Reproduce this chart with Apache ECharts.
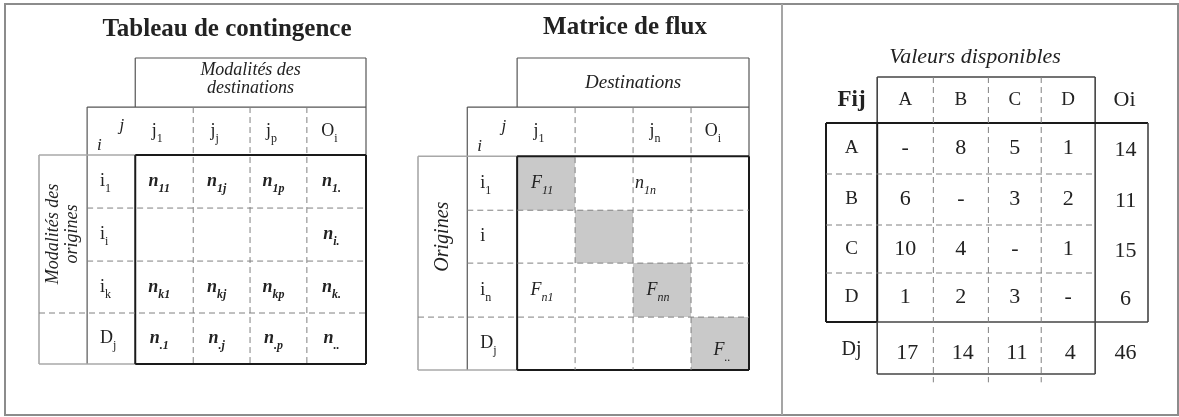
<!DOCTYPE html>
<html><head><meta charset="utf-8">
<script src="https://cdn.jsdelivr.net/npm/echarts@6/dist/echarts.min.js"></script>
<style>html,body{margin:0;padding:0;background:#fff}#c{width:1179px;height:417px}</style>
</head><body><div id="c"></div>
<script>
// ================= DATA =================
const titles = ['Tableau de contingence', 'Matrice de flux', 'Valeurs disponibles'];
// Table 1 : Tableau de contingence
const t1DestLabel = 'Modalités des\ndestinations';
const t1OrigLabel = 'Modalités des\norigines';
const t1Corner = ['i', 'j'];
const t1ColHeads = [['j','1'], ['j','j'], ['j','p'], ['O','i']];
const t1RowHeads = [['i','1'], ['i','i'], ['i','k'], ['D','j']];
const t1Cells = [
  [['n','11'], ['n','1j'], ['n','1p'], ['n','1.']],
  [null, null, null, ['n','i.']],
  [['n','k1'], ['n','kj'], ['n','kp'], ['n','k.']],
  [['n','.1'], ['n','.j'], ['n','.p'], ['n','..']]
];
// Table 2 : Matrice de flux
const t2DestLabel = 'Destinations';
const t2OrigLabel = 'Origines';
const t2Corner = ['i', 'j'];
const t2ColHeads = [['j','1'], null, ['j','n'], ['O','i']];
const t2RowHeads = [['i','1'], ['i',''], ['i','n'], ['D','j']];
const t2Cells = [
  [['F','11'], null, ['n','1n'], null],
  [null, null, null, null],
  [['F','n1'], null, ['F','nn'], null],
  [null, null, null, ['F','..']]
];
const t2Shaded = [[1,0,0,0],[0,1,0,0],[0,0,1,0],[0,0,0,1]];
// Table 3 : Valeurs disponibles
const t3Corner = 'Fij';
const t3Places = ['A', 'B', 'C', 'D'];
const t3Flows = [
  [null, 8, 5, 1],
  [6, null, 3, 2],
  [10, 4, null, 1],
  [1, 2, 3, null]
];
const t3OiLabel = 'Oi';
const t3DjLabel = 'Dj';
const t3Oi = [14, 11, 15, 6];
const t3Dj = [17, 14, 11, 4];
const t3Total = 46;

// ================= LAYOUT / STYLE =================
const SERIF = '"Liberation Serif","DejaVu Serif",serif';
const INK = '#222';
const GREY_CELL = '#c9c9c9';
function cum(a){const e=[0];a.forEach(v=>e.push(e[e.length-1]+v));return e;}
const tables = [
  {grid:{left:39, top:58, width:327, height:306}, colW:[0.83,0.83,1,0.98,0.98,1.02], rowH:[0.925,0.906,1,1,0.98,0.962]},
  {grid:{left:418, top:58, width:331, height:312}, colW:[0.85,0.86,1,1,1,1], rowH:[0.91,0.91,1,0.98,1,0.98]},
  {grid:{left:826, top:77, width:322, height:297}, colW:[0.93,1.02,1,0.96,0.98,0.96], rowH:[0.92,1.02,1.02,0.96,0.98,1.04]}
];
tables.forEach(t=>{t.ce=cum(t.colW); t.re=cum(t.rowH);});
function edgeAt(e,k){
  const n=e.length-1;
  if(k>=n) return e[n]+(k-n)*(e[n]-e[n-1]);
  const i=Math.floor(k), f=k-i; return e[i]+f*(e[i+1]-e[i]);
}
function richFor(size, italic, bold){
  const fs = italic?'italic':'normal', fw = bold?'bold':'normal';
  const ss = Math.round(size*0.66);
  return {
    b:{fontFamily:SERIF,fontSize:size,fontStyle:fs,fontWeight:fw,fill:INK,lineHeight:size+9,verticalAlign:'middle'},
    s:{fontFamily:SERIF,fontSize:ss,fontStyle:fs,fontWeight:fw,fill:INK,lineHeight:ss,verticalAlign:'bottom'}
  };
}
function subText(p){ return p ? '{b|'+p[0]+'}' + (p[1] ? '{s|'+p[1]+'}' : '') : ''; }

// ---------- items builders ----------
function buildT1T2(corner, destLabel, origLabel, colHeads, rowHeads, cells, shaded, opt){
  const items = [];
  items.push({c0:2,c1:5,r0:0,r1:0, text:destLabel, size:opt.destSize, italic:true, lineHeight:opt.destSize, dy:opt.destDy});
  items.push({c0:0,c1:0,r0:2,r1:4, text:origLabel, size:opt.origSize, italic:true, lineHeight:opt.origSize+1, rotate:true, dx:opt.origDx||0});
  items.push({c0:1,c1:1,r0:1,r1:1, text:corner[0], size:17, italic:true, ax:0, ay:1, dx:10, dy:-10, align:'left'});
  items.push({c0:1,c1:1,r0:1,r1:1, text:corner[1], size:17, italic:true, ax:1, ay:0, dx:-11, dy:19, align:'right'});
  colHeads.forEach((h,k)=>{ if(h) items.push({c0:2+k,c1:2+k,r0:1,r1:1, rich:subText(h), size:18, dx:opt.headDx}); });
  rowHeads.forEach((h,k)=>{ if(h) items.push({c0:1,c1:1,r0:2+k,r1:2+k, rich:subText(h), size:18, ax:0, dx:13, align:'left'}); });
  cells.forEach((row,m)=>row.forEach((v,k)=>{
    const it = {c0:2+k,c1:2+k,r0:2+m,r1:2+m, size:18, italic:true, bold:opt.bold, dx:opt.cellDx};
    if (shaded && shaded[m][k]) it.fill = GREY_CELL;
    if (v) it.rich = subText(v);
    const ov = opt.over && opt.over[m+','+k]; if (ov) Object.assign(it, ov);
    if (v || it.fill) items.push(it);
  }));
  return items;
}
const t1Items = buildT1T2(t1Corner, t1DestLabel, t1OrigLabel, t1ColHeads, t1RowHeads, t1Cells, null,
  {destSize:18, destDy:-3, origSize:18, headDx:-7, cellDx:-5, bold:true});
const t2Items = buildT1T2(t2Corner, t2DestLabel, t2OrigLabel, t2ColHeads, t2RowHeads, t2Cells, t2Shaded,
  {destSize:19, destDy:0, origSize:20, headDx:-7, cellDx:-4, bold:false,
   over:{'0,2':{ax:0, dx:2, align:'left'}, '3,3':{dx:2, dy:7}}});

const t3Items = [];
t3Items.push({c0:0,c1:0,r0:0,r1:0, text:t3Corner, size:23, bold:true});
t3Places.forEach((p,k)=>t3Items.push({c0:1+k,c1:1+k,r0:0,r1:0, text:p, size:19}));
t3Items.push({c0:5,c1:5,r0:0,r1:0, text:t3OiLabel, size:22, dx:3});
t3Places.forEach((p,k)=>t3Items.push({c0:0,c1:0,r0:1+k,r1:1+k, text:p, size:19}));
t3Flows.forEach((row,m)=>row.forEach((v,k)=>t3Items.push({c0:1+k,c1:1+k,r0:1+m,r1:1+m, text: v==null?'-':String(v), size:22})));
t3Oi.forEach((v,m)=>t3Items.push({c0:5,c1:5,r0:1+m,r1:1+m, text:String(v), size:22, dx:4, dy:2}));
t3Items.push({c0:0,c1:0,r0:5,r1:5, text:t3DjLabel, size:20, dy:2});
t3Dj.forEach((v,k)=>t3Items.push({c0:1+k,c1:1+k,r0:5,r1:5, text:String(v), size:22, dx:2, dy:5}));
t3Items.push({c0:5,c1:5,r0:5,r1:5, text:String(t3Total), size:22, dx:4, dy:5});

// ---------- lines (in cell-edge index space) ----------
const LS = {
  thin:{stroke:'#555', lineWidth:1.2},
  mid:{stroke:'#444', lineWidth:1.6},
  thick:{stroke:'#1a1a1a', lineWidth:2},
  light:{stroke:'#a8a8a8', lineWidth:1.6},
  dash:{stroke:'#808080', lineWidth:1, lineDash:[6,4]}
};
const t12Lines = [
  [2,0,6,0,'thin'],[2,0,2,1,'thin'],[6,0,6,1,'thin'],[1,1,6,1,'thin'],
  [1,1,1,6,'thin'],[6,1,6,2,'thin'],
  [0,2,2,2,'light'],[0,2,0,6,'light'],[0,6,2,6,'light'],
  [2,2,6,2,'thick'],[2,2,2,6,'thick'],[6,2,6,6,'thick'],[2,6,6,6,'thick'],
  [3,1,3,6,'dash'],[4,1,4,6,'dash'],[5,1,5,6,'dash'],
  [1,3,6,3,'dash'],[1,4,6,4,'dash'],[0,5,6,5,'dash']
];
const t3Lines = [
  [1,0,5,0,'mid'],[1,0,1,1,'mid'],[5,0,5,6,'mid'],
  [0,1,6,1,'thick'],[0,1,0,5,'thick'],[1,1,1,5,'thick'],[0,5,1,5,'thick'],
  [1,5,6,5,'mid'],[6,1,6,5,'mid'],
  [1,5,1,6,'mid'],[1,6,5,6,'mid'],
  [2,0,2,6.16,'dash'],[3,0,3,6.16,'dash'],[4,0,4,6.16,'dash'],
  [0,2,5,2,'dash'],[0,3,5,3,'dash'],[0,4,5,4,'dash']
];

// ---------- series ----------
function cellSeries(ti, items){
  const t = tables[ti];
  return {
    type:'custom', xAxisIndex:ti, yAxisIndex:ti, silent:true, clip:false, animation:false, z:2,
    data: items.map(it=>[ (t.ce[it.c0]+t.ce[it.c1+1])/2, (t.re[it.r0]+t.re[it.r1+1])/2 ]),
    renderItem:(params, api)=>{
      const it = items[params.dataIndex];
      const p0 = api.coord([t.ce[it.c0], t.re[it.r0]]);
      const p1 = api.coord([t.ce[it.c1+1], t.re[it.r1+1]]);
      const w = p1[0]-p0[0], h = p1[1]-p0[1];
      const ch = [];
      if (it.fill) ch.push({type:'rect', shape:{x:p0[0], y:p0[1], width:w, height:h}, style:{fill:it.fill}, z2:0});
      if (it.text || it.rich) {
        const ax = it.ax==null?0.5:it.ax, ay = it.ay==null?0.5:it.ay;
        const x = p0[0]+ax*w+(it.dx||0), y = p0[1]+ay*h+(it.dy||0);
        const st = {
          fill:INK, fontFamily:SERIF, fontSize:it.size, fontStyle:it.italic?'italic':'normal',
          fontWeight:it.bold?'bold':'normal', align:it.align||'center', verticalAlign:'middle'
        };
        if (it.rich) { st.text = it.rich; st.rich = richFor(it.size, it.italic, it.bold); }
        else { st.text = it.text; if (it.lineHeight) st.lineHeight = it.lineHeight; }
        ch.push({type:'text', x:x, y:y, rotation: it.rotate?Math.PI/2:0, style:st, z2:5});
      }
      return {type:'group', children:ch};
    }
  };
}
function lineSeries(ti, lines){
  const t = tables[ti];
  return {
    type:'custom', xAxisIndex:ti, yAxisIndex:ti, silent:true, clip:false, animation:false, z:3,
    data: lines.map(l=>[edgeAt(t.ce,l[0]), edgeAt(t.re,l[1])]),
    renderItem:(params, api)=>{
      const l = lines[params.dataIndex];
      const a = api.coord([edgeAt(t.ce,l[0]), edgeAt(t.re,l[1])]);
      const b = api.coord([edgeAt(t.ce,l[2]), edgeAt(t.re,l[3])]);
      return {type:'line', shape:{x1:a[0],y1:a[1],x2:b[0],y2:b[1]}, style:Object.assign({fill:null}, LS[l[4]])};
    }
  };
}

const chart = echarts.init(document.getElementById('c'), null, {renderer:'canvas'});
const titleStyle = (sz, it)=>({fontFamily:SERIF, fontSize:sz, fontWeight:it?'normal':'bold', fontStyle:it?'italic':'normal', color:INK});
chart.setOption({
  animation:false,
  backgroundColor:'#fff',
  title:[
    {text:titles[0], left:227, top:17, textAlign:'center', padding:0, textStyle:titleStyle(25,false)},
    {text:titles[1], left:625, top:15, textAlign:'center', padding:0, textStyle:titleStyle(25,false)},
    {text:titles[2], left:975, top:46, textAlign:'center', padding:0, textStyle:titleStyle(22,true)}
  ],
  grid: tables.map(t=>Object.assign({show:false, containLabel:false}, t.grid)),
  xAxis: tables.map((t,i)=>({type:'value', gridIndex:i, min:0, max:t.ce[t.ce.length-1], show:false})),
  yAxis: tables.map((t,i)=>({type:'value', gridIndex:i, min:0, max:t.re[t.re.length-1], inverse:true, show:false})),
  graphic:[
    {type:'rect', shape:{x:5, y:4, width:1173, height:411}, style:{fill:null, stroke:'#8c8c8c', lineWidth:2}, silent:true},
    {type:'line', shape:{x1:782, y1:4, x2:782, y2:415}, style:{stroke:'#a5a5a5', lineWidth:2}, silent:true}
  ],
  series:[
    cellSeries(0, t1Items), lineSeries(0, t12Lines),
    cellSeries(1, t2Items), lineSeries(1, t12Lines),
    cellSeries(2, t3Items), lineSeries(2, t3Lines)
  ]
});
</script></body></html>
